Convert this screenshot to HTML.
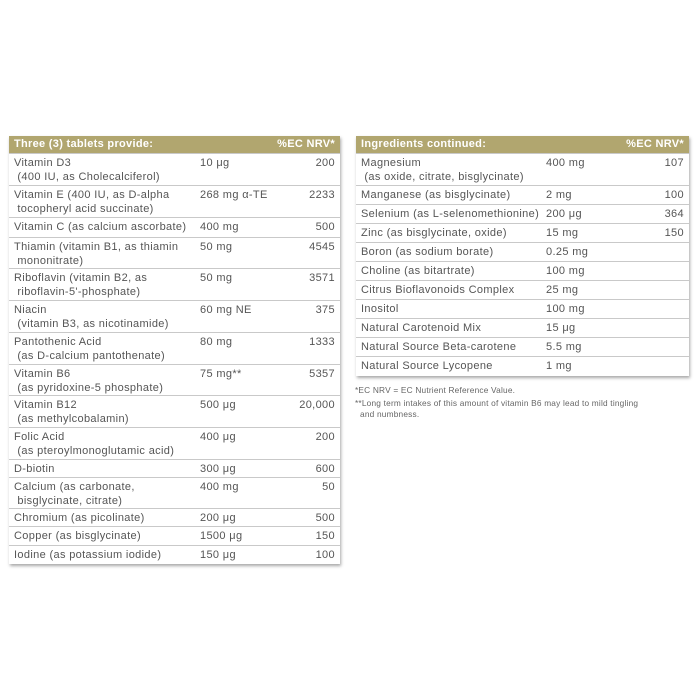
<!DOCTYPE html>
<html><head><meta charset="utf-8"><style>
body{margin:0;width:700px;height:700px;background:#fff;font-family:"Liberation Sans",sans-serif;color:#555;position:relative;overflow:hidden}
.t{position:absolute;top:136px;background:#fff;box-shadow:1px 2px 3px rgba(0,0,0,.35)}
.h{height:17px;background:#b1a66f;color:#fff;font-weight:bold;font-size:11px;line-height:17px;position:relative;letter-spacing:0.3px}
.h span{position:absolute}
.r{position:relative;border-top:1px solid #c9c9c9;box-sizing:border-box;font-size:11px;line-height:14px;letter-spacing:0.35px}
.r:first-of-type{border-top:none}
.r span{position:absolute;top:2px;white-space:nowrap}
.d{height:32px}.s{height:19px}
.fn{position:absolute;font-size:8.3px;color:#666;line-height:11px;letter-spacing:0.2px}
</style></head><body>

<div class="t" style="left:9px;width:331px">
<div class="h"><span style="left:5px">Three (3) tablets provide:</span><span style="right:5px">%EC NRV*</span></div>
<div class="r d"><span style="left:5px">Vitamin D3<br>&nbsp;(400 IU, as Cholecalciferol)</span><span style="left:191px">10 μg</span><span style="right:5px">200</span></div>
<div class="r d"><span style="left:5px">Vitamin E (400 IU, as D-alpha<br>&nbsp;tocopheryl acid succinate)</span><span style="left:191px">268 mg α-TE</span><span style="right:5px">2233</span></div>
<div class="r" style="height:20px"><span style="left:5px">Vitamin C (as calcium ascorbate)</span><span style="left:191px">400 mg</span><span style="right:5px">500</span></div>
<div class="r" style="height:31px"><span style="left:5px">Thiamin (vitamin B1, as thiamin<br>&nbsp;mononitrate)</span><span style="left:191px">50 mg</span><span style="right:5px">4545</span></div>
<div class="r d"><span style="left:5px">Riboflavin (vitamin B2, as<br>&nbsp;riboflavin-5'-phosphate)</span><span style="left:191px">50 mg</span><span style="right:5px">3571</span></div>
<div class="r d"><span style="left:5px">Niacin<br>&nbsp;(vitamin B3, as nicotinamide)</span><span style="left:191px">60 mg NE</span><span style="right:5px">375</span></div>
<div class="r d"><span style="left:5px">Pantothenic Acid<br>&nbsp;(as D-calcium pantothenate)</span><span style="left:191px">80 mg</span><span style="right:5px">1333</span></div>
<div class="r" style="height:31px"><span style="left:5px">Vitamin B6<br>&nbsp;(as pyridoxine-5 phosphate)</span><span style="left:191px">75 mg**</span><span style="right:5px">5357</span></div>
<div class="r d"><span style="left:5px">Vitamin B12<br>&nbsp;(as methylcobalamin)</span><span style="left:191px">500 μg</span><span style="right:5px">20,000</span></div>
<div class="r d"><span style="left:5px">Folic Acid<br>&nbsp;(as pteroylmonoglutamic acid)</span><span style="left:191px">400 μg</span><span style="right:5px">200</span></div>
<div class="r" style="height:18px"><span style="left:5px">D-biotin</span><span style="left:191px">300 μg</span><span style="right:5px">600</span></div>
<div class="r" style="height:31px"><span style="left:5px">Calcium (as carbonate,<br>&nbsp;bisglycinate, citrate)</span><span style="left:191px">400 mg</span><span style="right:5px">50</span></div>
<div class="r" style="height:18px"><span style="left:5px">Chromium (as picolinate)</span><span style="left:191px">200 μg</span><span style="right:5px">500</span></div>
<div class="r s"><span style="left:5px">Copper (as bisglycinate)</span><span style="left:191px">1500 μg</span><span style="right:5px">150</span></div>
<div class="r s"><span style="left:5px">Iodine (as potassium iodide)</span><span style="left:191px">150 μg</span><span style="right:5px">100</span></div>
</div>

<div class="t" style="left:356px;width:333px">
<div class="h"><span style="left:5px">Ingredients continued:</span><span style="right:5px">%EC NRV*</span></div>
<div class="r d"><span style="left:5px">Magnesium<br>&nbsp;(as oxide, citrate, bisglycinate)</span><span style="left:190px">400 mg</span><span style="right:5px">107</span></div>
<div class="r s"><span style="left:5px">Manganese (as bisglycinate)</span><span style="left:190px">2 mg</span><span style="right:5px">100</span></div>
<div class="r s"><span style="left:5px">Selenium (as L-selenomethionine)</span><span style="left:190px">200 μg</span><span style="right:5px">364</span></div>
<div class="r s"><span style="left:5px">Zinc (as bisglycinate, oxide)</span><span style="left:190px">15 mg</span><span style="right:5px">150</span></div>
<div class="r s"><span style="left:5px">Boron (as sodium borate)</span><span style="left:190px">0.25 mg</span></div>
<div class="r s"><span style="left:5px">Choline (as bitartrate)</span><span style="left:190px">100 mg</span></div>
<div class="r s"><span style="left:5px">Citrus Bioflavonoids Complex</span><span style="left:190px">25 mg</span></div>
<div class="r s"><span style="left:5px">Inositol</span><span style="left:190px">100 mg</span></div>
<div class="r s"><span style="left:5px">Natural Carotenoid Mix</span><span style="left:190px">15 μg</span></div>
<div class="r s"><span style="left:5px">Natural Source Beta-carotene</span><span style="left:190px">5.5 mg</span></div>
<div class="r" style="height:20px"><span style="left:5px">Natural Source Lycopene</span><span style="left:190px">1 mg</span></div>
</div>

<div class="fn" style="left:355px;top:385px">*EC NRV = EC Nutrient Reference Value.</div>
<div class="fn" style="left:355px;top:398px">**Long term intakes of this amount of vitamin B6 may lead to mild tingling<br>&nbsp;&nbsp;and numbness.</div>
</body></html>
